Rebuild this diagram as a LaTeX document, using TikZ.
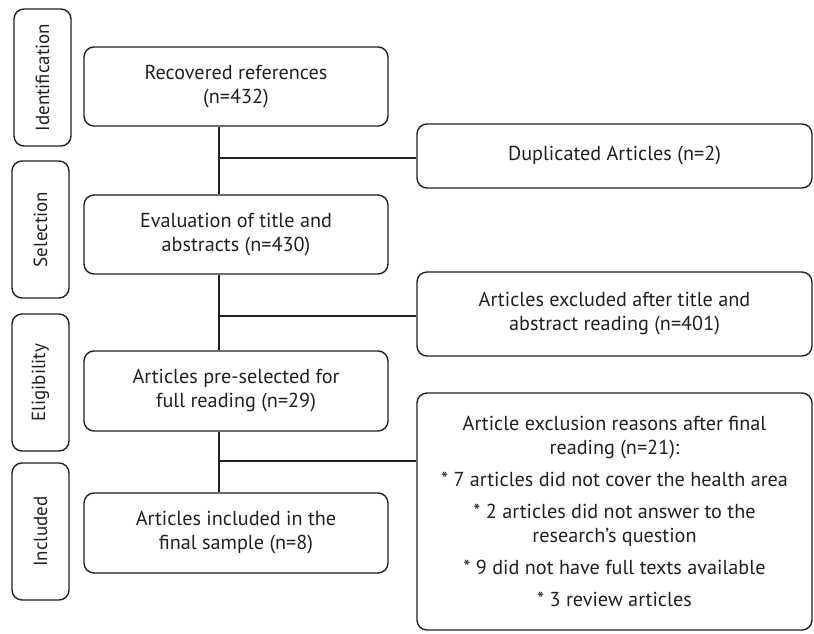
\documentclass[tikz,border=0pt]{standalone}
\usepackage{fontspec}
\setmainfont{PT Sans}
\definecolor{ink}{HTML}{231F20}
\begin{document}
\begin{tikzpicture}[x=1pt,y=-1pt,
  every node/.style={font=\fontsize{20.2}{24}\selectfont, text=ink},
  box/.style={draw=ink, line width=1.4pt, rounded corners=10pt, align=center, inner sep=0pt},
  mainbox/.style={box, minimum width=304pt},
  sidebox/.style={box, minimum width=395pt},
  stagebox/.style={box, minimum width=57pt, minimum height=137pt},
  stagetext/.style={rotate=90, font=\fontsize{19}{22}\selectfont, text=ink},
  link/.style={draw=ink, line width=2.8pt}
]
\useasboundingbox (0,0) rectangle (814,633);

% stage labels
\node[stagebox] (sid) at (42.5,77.5) {};
\node[stagetext] (tid) at (sid.center) {Identification};
\node[stagebox] (ssel) at (40.5,229.5) {};
\node[stagetext] (tsel) at (ssel.center) {Selection};
\node[stagebox] (selig) at (40.5,382.5) {};
\node[stagetext] (telig) at (selig.center) {Eligibility};
\node[stagebox] (sinc) at (40.5,531.5) {};
\node[stagetext] (tinc) at (sinc.center) {Included};

% main boxes
\node[mainbox, minimum height=79pt] (rec) at (236,86.5) {Recovered references\\(n=432)};
\node[mainbox, minimum height=79pt] (eval) at (236,234.5) {Evaluation of title and\\abstracts (n=430)};
\node[mainbox, minimum height=80pt] (pre) at (236,391) {Articles pre-selected for\\full reading (n=29)};
\node[mainbox, minimum height=80pt] (inc) at (236,533) {Articles included in the\\final sample (n=8)};

% side boxes
\node[sidebox, minimum height=64pt] (dup) at (614.5,156) {Duplicated Articles (n=2)};
\node[sidebox, minimum height=84pt] (exc) at (614.5,314) {Articles excluded after title and\\abstract reading (n=401)};
\node[sidebox, minimum height=237pt] (rea) at (614.5,511.5) {Article exclusion reasons after final\\reading (n=21):\\[8pt]
* 7 articles did not cover the health area\\[8pt]
* 2 articles did not answer to the\\research’s question\\[8pt]
* 9 did not have full texts available\\[8pt]
* 3 review articles};

% junctions
\coordinate (j1) at (219,158);
\coordinate (j2) at (219,316);
\coordinate (j3) at (219,461);

\draw[link] (rec.south -| j1) -- (eval.north -| j1);
\draw[link] (eval.south -| j2) -- (pre.north -| j2);
\draw[link] (pre.south -| j3) -- (inc.north -| j3);
\draw[link] (j1) -- (j1 -| dup.west);
\draw[link] (j2) -- (j2 -| exc.west);
\draw[link] (j3) -- (j3 -| rea.west);
\end{tikzpicture}
\end{document}
